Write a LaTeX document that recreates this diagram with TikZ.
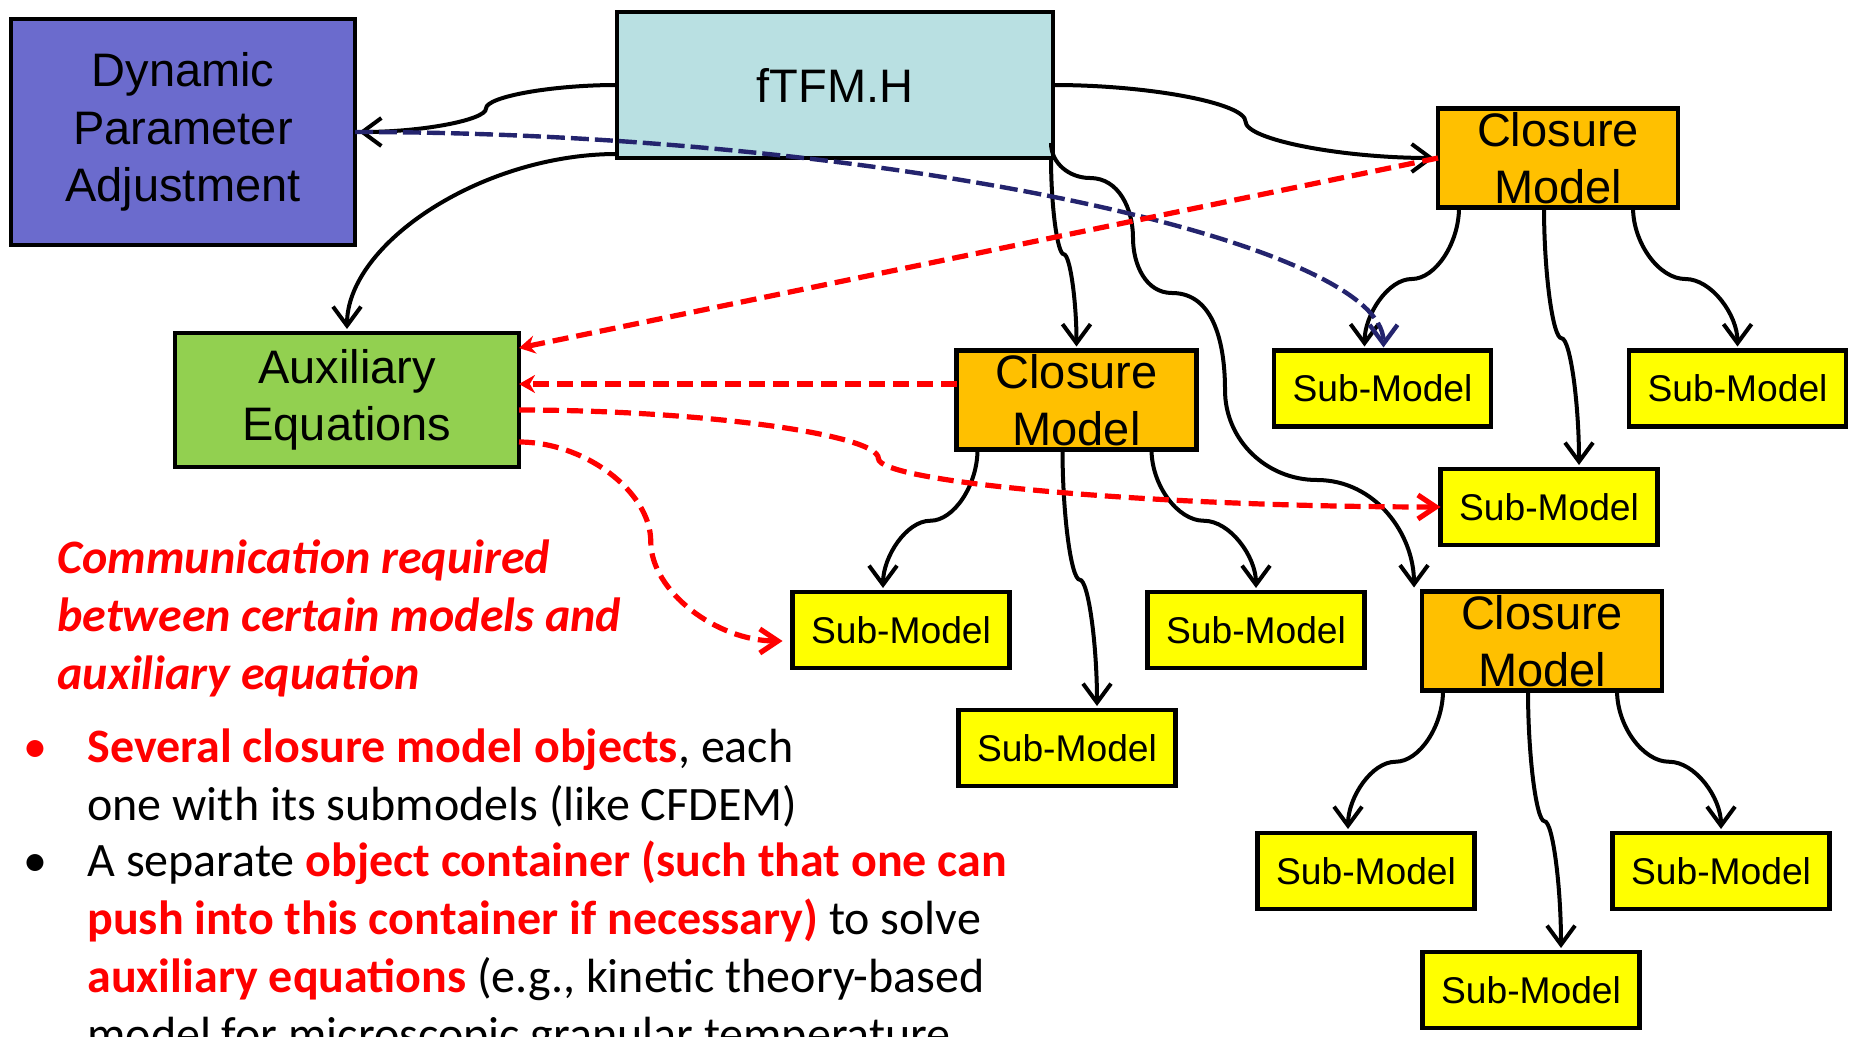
\documentclass[tikz,border=0pt]{standalone}
\usepackage{fontspec}
\setmainfont{Liberation Sans}
\newfontfamily\bodyfont{Carlito}
\usepackage{xcolor}
\usetikzlibrary{positioning,arrows.meta,calc}

\definecolor{dpablue}{RGB}{107,107,205}
\definecolor{hcyan}{RGB}{185,224,226}
\definecolor{auxgreen}{RGB}{146,208,80}
\definecolor{cmorange}{RGB}{255,192,0}
\definecolor{smyellow}{RGB}{255,255,0}
\definecolor{navy}{RGB}{36,36,110}

\newcommand{\redbf}[1]{\textcolor{red}{\bfseries #1}}

\tikzset{
  hcurve/.style={to path={let \p1=(\tikztostart), \p2=(\tikztotarget),
      \p3=($(\tikztostart)!#1!(\tikztotarget)$) in
      .. controls ({(\x1+\x3)/2},\y1) and (\x3,{(3*\y1+\y2)/4})
      .. (\x3,{(\y1+\y2)/2})
      .. controls (\x3,{(\y1+3*\y2)/4}) and ({(\x3+\x2)/2},\y2)
      .. (\tikztotarget)}},
  hcurve/.default=0.5,
  vcurve/.style={to path={let \p1=(\tikztostart), \p2=(\tikztotarget) in
      .. controls (\x1,{(3*\y1+\y2)/4}) and ({(3*\x1+\x2)/4},{(\y1+\y2)/2})
      .. ({(\x1+\x2)/2},{(\y1+\y2)/2})
      .. controls ({(\x1+3*\x2)/4},{(\y1+\y2)/2}) and (\x2,{(\y1+3*\y2)/4})
      .. (\tikztotarget)}},
  elbow/.style={to path={let \p1=(\tikztostart), \p2=(\tikztotarget) in
      .. controls ({(\x1+\x2)/2},\y1) and (\x2,{(\y1+\y2)/2}) .. (\tikztotarget)}}
}

\begin{document}
\begin{tikzpicture}[x=0.5pt, y=-0.5pt, >={Straight Barb[length=9.5pt,width=14pt]},
  box/.style={rectangle, draw, line width=2.3pt, fill=#1, inner sep=0pt, outer sep=0pt,
    align=center, font=\fontsize{23.5}{28.75}\selectfont},
  closure/.style={box=cmorange, minimum width=120pt, minimum height=49.5pt},
  submodel/.style={box=smyellow, minimum width=108.5pt, minimum height=38pt,
    font=\fontsize{18.6}{22}\selectfont},
  link/.style={->, line width=2pt, shorten >=2pt},
  talk/.style={red, line width=2.6pt, dash pattern=on 8pt off 4pt},
  note/.style={anchor=base west, align=left, inner sep=0pt,
    font=\bodyfont\fontsize{24}{28.9}\selectfont}]
  \useasboundingbox (0,0) rectangle (1855,1037);
  \clip (0,0) rectangle (1855,1037);

  \node[box=dpablue, minimum width=172pt, minimum height=113pt] (dpa) at (183,132) {Dynamic\\Parameter\\Adjustment};
  \node[box=hcyan, minimum width=218pt, minimum height=73pt] (ftfm) at (835,85) {fTFM.H};
  \node[box=auxgreen, minimum width=172pt, minimum height=67pt] (aux) at (347,400) {Auxiliary\\Equations};
  \node[closure] (cm1) at (1558,158) {Closure\\Model};
  \node[closure] (cm2) at (1076.5,400) {Closure\\Model};
  \node[closure] (cm3) at (1542,641) {Closure\\Model};
  \node[submodel] (s1a) at (1382.5,388.5) {Sub-Model};
  \node[submodel, right=69pt of s1a] (s1b) {Sub-Model};
  \node[submodel] (s1c) at (1549,507) {Sub-Model};
  \node[submodel] (s2a) at (901,630) {Sub-Model};
  \node[submodel, right=69pt of s2a] (s2b) {Sub-Model};
  \node[submodel] (s2c) at (1067,748) {Sub-Model};
  \node[submodel] (s3a) at (1366,871) {Sub-Model};
  \node[submodel, right=69pt of s3a] (s3b) {Sub-Model};
  \node[submodel] (s3c) at (1531,990) {Sub-Model};

  \draw[link] (ftfm.west) to[hcurve] (dpa.east);
  \draw[link] ($(ftfm.south west)+(0,-4)$) to[elbow] (aux.north);
  \draw[link] (ftfm.east) to[hcurve] (cm1.west);
  \draw[link] ($(ftfm.south east)+(-2,0)$) to[vcurve] (cm2.north);
  \draw[link] ($(ftfm.east)+(-2,58)$) to[out=-90,in=180] (1090,178)
    to[out=0,in=90] (1133,238) to[out=-90,in=180] (1172,293)
    to[out=0,in=90] (1225,390) to[out=-90,in=180] (1317,480)
    to[out=0,in=90] ($(cm3.north west)+(-8,0)$);
  \foreach \c/\l/\m/\r in {cm1/s1a/s1c/s1b, cm2/s2a/s2c/s2b, cm3/s3a/s3c/s3b} {
    \draw[link] ($(\c.south west)+(21,0)$) to[vcurve] ($(\l.north)+(-18,0)$);
    \draw[link] ($(\c.south)+(-14,0)$) to[vcurve] ($(\m.north)+(30,0)$);
    \draw[link] ($(\c.south east)+(-45,0)$) to[vcurve] (\r.north);
  }

  \draw[navy, line width=2.2pt, dash pattern=on 9pt off 3pt, ->] (dpa.east) to[elbow] ($(s1a.north)+(1,-3)$);
  \draw[talk, -{Stealth[length=8pt,width=9pt]}] (cm1.west) -- ($(aux.north east)+(0,15)$);
  \draw[talk, -{Stealth[length=8pt,width=9pt]}] ($(cm2.west)+(0,-16)$) -- ($(aux.east)+(0,-16)$);
  \draw[talk, -{Straight Barb[length=9pt,width=12pt]}] ($(aux.east)+(0,10)$) to[hcurve=0.39] (s1c.west);
  \draw[talk, -{Straight Barb[length=9pt,width=12pt]}] ($(aux.east)+(0,42)$) to[hcurve] ($(s2a.west)+(-10,11)$);

  \node[note, text=red, font=\bodyfont\fontsize{24}{28.9}\selectfont\bfseries\itshape] (talknote) at (57,689)
    {Communication required\\between certain models and\\auxiliary equation};
  \node[note] (item1) at (87,820.5)
    {\llap{\textcolor{red}{\textbullet}\hspace{20pt}}\redbf{Several closure model objects}, each\\one with its submodels (like CFDEM)};
  \node[note] (item2) at (87,1050)
    {\llap{\textbullet\hspace{20pt}}A separate \redbf{object container (such that one can}\\\redbf{push into this container if necessary)} to solve\\\redbf{auxiliary equations} (e.g., kinetic theory-based\\model for microscopic granular temperature};
\end{tikzpicture}
\end{document}
